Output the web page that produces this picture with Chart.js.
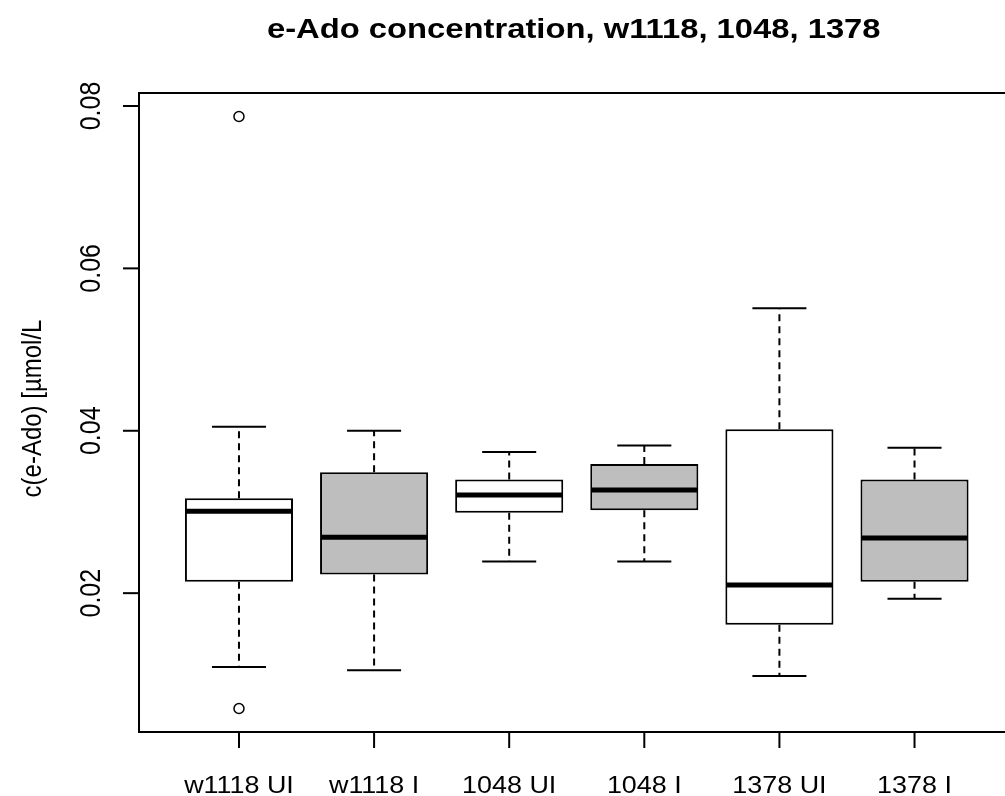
<!DOCTYPE html>
<html>
<head>
<meta charset="utf-8">
<script src="https://cdn.jsdelivr.net/npm/chart.js@4.4.1/dist/chart.umd.min.js"></script>
<style>
	html, body { margin: 0; padding: 0; background: #fff; overflow: hidden; }
	#wrap { position: relative; width: 1021px; height: 796px; }
</style>
</head>
<body>
<div id="wrap"><canvas id="boxChart"></canvas></div>
<script>
// values
const groups = ["w1118 UI", "w1118 I", "1048 UI", "1048 I", "1378 UI", "1378 I"];
const lowerWhisker = [0.0109, 0.0105, 0.0239, 0.0239, 0.0098, 0.0193];
const q1 = [0.0214, 0.0223, 0.0299, 0.0302, 0.0161, 0.0214];
const median = [0.0301, 0.0269, 0.0321, 0.0327, 0.0210, 0.0268];
const q3 = [0.0317, 0.0349, 0.0340, 0.0359, 0.0402, 0.0340];
const upperWhisker = [0.0405, 0.0400, 0.0374, 0.0382, 0.0551, 0.0379];
const outlierGroup = [1, 1];
const outlierValue = [0.0787, 0.0058];
const yTicks = [0.02, 0.04, 0.06, 0.08];

const titleText = "e-Ado concentration, w1118, 1048, 1378";
const yLabel = "c(e-Ado) [\u00b5mol/L";

const GRAY = "#bebebe";
const boxFill = groups.map((g, i) => i % 2 ? GRAY : "#ffffff");
const FONT = "'Liberation Sans', Arial, sans-serif";
const SX = 1.17; // the source picture is stretched sideways

function drawText(ctx, text, px, py, rotate, align, baseline, font) {
	ctx.save();
	ctx.translate(px, py);
	ctx.scale(SX, 1);
	if (rotate) ctx.rotate(-Math.PI / 2);
	ctx.font = font;
	ctx.textAlign = align;
	ctx.textBaseline = baseline;
	ctx.fillStyle = "#000";
	ctx.fillText(text, 0, 0);
	ctx.restore();
}

const boxplotExtras = {
	id: "boxplotExtras",
	afterDatasetsDraw(chart) {
		const { ctx, chartArea: a, scales: { x, y } } = chart;
		ctx.save();
		ctx.strokeStyle = "#000";

		groups.forEach((g, i) => {
			const cx = x.getPixelForValue(i + 1);
			const capL = x.getPixelForValue(i + 0.8);
			const capR = x.getPixelForValue(i + 1.2);
			const boxL = x.getPixelForValue(i + 0.6);
			const boxR = x.getPixelForValue(i + 1.4);

			// dashed whiskers
			ctx.lineWidth = 2;
			ctx.setLineDash([7, 5]);
			ctx.beginPath();
			ctx.moveTo(cx, y.getPixelForValue(q3[i]));
			ctx.lineTo(cx, y.getPixelForValue(upperWhisker[i]));
			ctx.moveTo(cx, y.getPixelForValue(q1[i]));
			ctx.lineTo(cx, y.getPixelForValue(lowerWhisker[i]));
			ctx.stroke();

			// staples
			ctx.setLineDash([]);
			ctx.beginPath();
			ctx.moveTo(capL, y.getPixelForValue(upperWhisker[i]));
			ctx.lineTo(capR, y.getPixelForValue(upperWhisker[i]));
			ctx.moveTo(capL, y.getPixelForValue(lowerWhisker[i]));
			ctx.lineTo(capR, y.getPixelForValue(lowerWhisker[i]));
			ctx.stroke();

			// median
			ctx.lineWidth = 5;
			ctx.beginPath();
			ctx.moveTo(boxL + 1, y.getPixelForValue(median[i]));
			ctx.lineTo(boxR - 1, y.getPixelForValue(median[i]));
			ctx.stroke();

			// x tick + label
			ctx.lineWidth = 2;
			ctx.beginPath();
			ctx.moveTo(cx, a.bottom);
			ctx.lineTo(cx, a.bottom + 16);
			ctx.stroke();
			drawText(ctx, g, cx, 793, false, "center", "alphabetic", "23px " + FONT);
		});

		// y ticks + labels
		yTicks.forEach(v => {
			const py = y.getPixelForValue(v);
			ctx.lineWidth = 2;
			ctx.beginPath();
			ctx.moveTo(a.left - 16, py);
			ctx.lineTo(a.left, py);
			ctx.stroke();
			drawText(ctx, v.toFixed(2), a.left - 39, py, true, "center", "alphabetic", "25px " + FONT);
		});

		// frame
		ctx.lineWidth = 2;
		ctx.strokeRect(a.left, a.top, a.right - a.left, a.bottom - a.top);

		drawText(ctx, yLabel, 41, (a.top + a.bottom) / 2 - 4, true, "center", "alphabetic", "24px " + FONT);
		drawText(ctx, titleText, (a.left + a.right) / 2 - 3, 38, false, "center", "alphabetic", "bold 28px " + FONT);
		ctx.restore();
	}
};

window.addEventListener("load", () => {
	new Chart(document.getElementById("boxChart"), {
		type: "bar",
		data: {
			datasets: [{
				type: "bar",
				data: groups.map((g, i) => ({ x: i + 1, y: [q1[i], q3[i]] })),
				backgroundColor: boxFill,
				borderColor: "#000",
				borderWidth: 2,
				borderSkipped: false,
				categoryPercentage: 1,
				barPercentage: 0.8,
				order: 2
			}, {
				type: "scatter",
				data: outlierGroup.map((g, i) => ({ x: g, y: outlierValue[i] })),
				pointStyle: "circle",
				pointRadius: 5,
				backgroundColor: "#fff",
				borderColor: "#000",
				borderWidth: 1.5,
				order: 1
			}]
		},
		options: {
			responsive: true,
			maintainAspectRatio: false,
			devicePixelRatio: 1,
			animation: false,
			layout: { padding: { left: 139, right: 5, top: 93, bottom: 64 } },
			plugins: {
				legend: { display: false },
				title: { display: false },
				tooltip: { enabled: false }
			},
			scales: {
				x: {
					type: "linear", min: 0.26, max: 6.74, offset: false, display: false,
					afterBuildTicks: axis => { axis.ticks = groups.map((g, i) => ({ value: i + 1 })); }
				},
				y: { type: "linear", min: 0.0029, max: 0.0816, display: false }
			}
		},
		plugins: [boxplotExtras]
	});
});
</script>
</body>
</html>
